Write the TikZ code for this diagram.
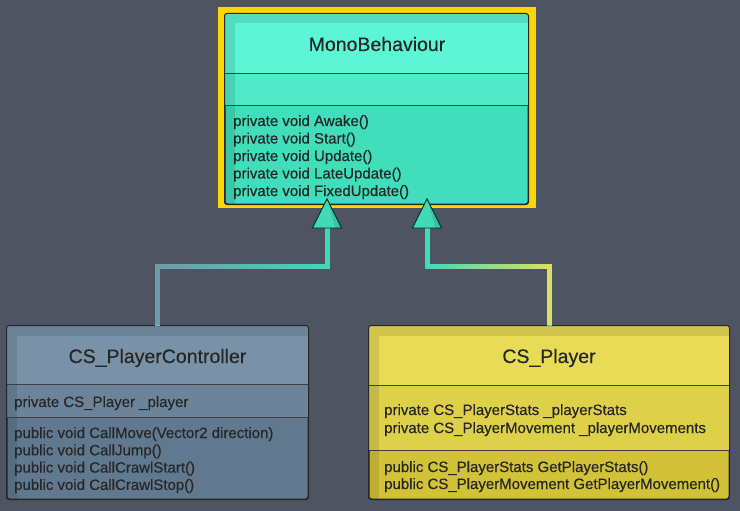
\documentclass[tikz,border=0pt]{standalone}
\usepackage{fontspec}
\setmainfont{Liberation Sans}[FakeBold=0.35]
\usetikzlibrary{calc,positioning,shapes.geometric,fadings}
\definecolor{bggrey}{RGB}{79,84,98}
\definecolor{monoTop}{RGB}{92,246,214}
\definecolor{monoMid}{RGB}{80,234,200}
\definecolor{monoBot}{RGB}{64,222,186}
\definecolor{ctrlTop}{RGB}{122,146,168}
\definecolor{ctrlMid}{RGB}{108,132,154}
\definecolor{ctrlBot}{RGB}{96,121,143}
\definecolor{plTop}{RGB}{232,220,86}
\definecolor{plMid}{RGB}{222,208,72}
\definecolor{plBot}{RGB}{210,194,56}
\definecolor{frameyellow}{RGB}{255,214,0}
\definecolor{inkdark}{RGB}{38,38,38}
\definecolor{lineteal}{RGB}{64,218,184}
\definecolor{linectrl}{RGB}{112,154,170}
\definecolor{lineyellow}{RGB}{222,224,96}
\tikzfading[name=fadeleft,left color=transparent!0,right color=transparent!100]
\tikzfading[name=faderight,left color=transparent!100,right color=transparent!0]

\begin{document}
\begin{tikzpicture}[x=1pt,y=-1pt,font=\fontsize{15}{17.5}\selectfont]

\tikzset{classbox/.style={draw=inkdark,line width=1pt,rounded corners=2.5pt,inner sep=0pt,shape=rectangle},
titletext/.style={font=\fontsize{19.5}{22}\selectfont,text=inkdark,inner sep=0pt,anchor=base},
member/.style={text=inkdark,inner sep=0pt,anchor=base west},
divider/.style={draw=black!75,line width=0.8pt},
bevel/.style={fill=black,opacity=.1},
parent/.style={shape=isosceles triangle,shape border rotate=90,isosceles triangle stretches,minimum width=29pt,minimum height=29pt,inner sep=0pt,fill=lineteal,draw=black!60!teal,line width=.8pt,anchor=apex},
link/.style={line width=5pt}}

% Background
\useasboundingbox (0,0) rectangle (740,511);
\fill[bggrey] (0,0) rectangle (740,511);

% Class boxes
\fill[frameyellow] (218,7) rectangle (536,208);
\node[classbox,fill=monoBot,minimum width=303pt,minimum height=190pt] (mb) at (376.5,109) {};
\node[classbox,fill=ctrlBot,minimum width=301pt,minimum height=173pt] (pc) at (157.5,412.5) {};
\node[classbox,fill=plBot,minimum width=360pt,minimum height=173pt] (pl) at (549,412.5) {};

% Compartments
\foreach \cls/\ct/\cm/\ya/\yb in {mb/monoTop/monoMid/60/92, pc/ctrlTop/ctrlMid/59/92, pl/plTop/plMid/60/125} {
  \begin{scope}
    \clip[rounded corners=2.5pt] (\cls.north west) rectangle (\cls.south east);
    \fill[\cm] (\cls.north west) rectangle ($(\cls.north east)+(0,\yb)$);
    \fill[\ct] (\cls.north west) rectangle ($(\cls.north east)+(0,\ya)$);
    \fill[bevel] (\cls.north west) rectangle ($(\cls.south west)+(10,0)$);
    \fill[bevel] ($(\cls.north west)+(10,0)$) rectangle ($(\cls.north east)+(0,10)$);
  \end{scope}
  \draw[divider] ($(\cls.north west)+(0,\ya)$) -- ($(\cls.north east)+(0,\ya)$);
  \draw[divider] ($(\cls.north west)+(0,\yb)$) -- ($(\cls.north east)+(0,\yb)$);
  \draw[draw=inkdark,line width=1pt,rounded corners=2.5pt] (\cls.north west) rectangle (\cls.south east);
}

% Titles
\node[titletext] (mbTitle) at (377,51) {MonoBehaviour};
\node[titletext] (pcTitle) at (157.5,363) {CS\_PlayerController};
\node[titletext] (plTitle) at (549,363) {CS\_Player};

% Members
\foreach \m [count=\i] in {Awake,Start,Update,LateUpdate,FixedUpdate}
  \node[member] (mbOp\i) at (233,108.5+17.5*\i) {private void \m()};
\node[member] (pcAttr) at (14,407) {private CS\_Player \_player};
\foreach \m [count=\i] in {CallMove(Vector2 direction),CallJump(),CallCrawlStart(),CallCrawlStop()}
  \node[member] (pcOp\i) at (14,420.7+17.3*\i) {public void \m};
\node[member] (plAttr1) at (384,415) {private CS\_PlayerStats \_playerStats};
\node[member] (plAttr2) at (384,433) {private CS\_PlayerMovement \_playerMovements};
\node[member] (plOp1) at (384,472) {public CS\_PlayerStats GetPlayerStats()};
\node[member] (plOp2) at (384,489) {public CS\_PlayerMovement GetPlayerMovement()};

% Inheritance arrows
\node[parent] (tri1) at (327,198) {};
\node[parent] (tri2) at (427,198) {};
\draw[link,lineteal] (pc.north) |- ($(tri1.lower side)+(0,38)$) -- (tri1.lower side);
\draw[link,linectrl,path fading=fadeleft] (pc.north) |- ($(tri1.lower side)+(0,38)$) -- (tri1.lower side);
\draw[link,lineteal] (pl.north) |- ($(tri2.lower side)+(0,38)$) -- (tri2.lower side);
\draw[link,lineyellow,path fading=faderight] (pl.north) |- ($(tri2.lower side)+(0,38)$) -- (tri2.lower side);
\foreach \t in {tri1,tri2} {
  \node[parent] (\t top) at (\t.apex) {};
  \fill[bevel] (\t top.apex) -- (\t top.right corner) -- ($(\t top.lower side)!.55!(\t top.right corner)$) -- cycle;
}

\end{tikzpicture}
\end{document}
